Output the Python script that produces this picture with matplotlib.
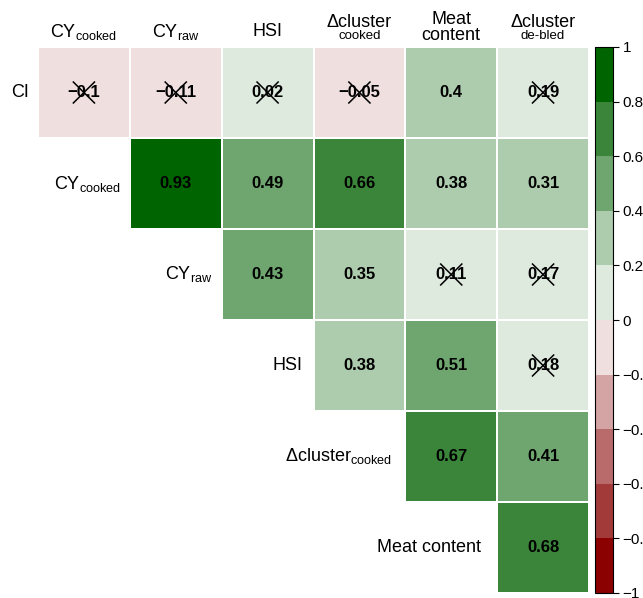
import numpy as np
import matplotlib
matplotlib.use("Agg")
import matplotlib.pyplot as plt
from matplotlib.colors import ListedColormap, BoundaryNorm
from matplotlib.colorbar import ColorbarBase

plt.rcParams['font.family'] = ['Liberation Sans', 'DejaVu Sans']
plt.rcParams['mathtext.fontset'] = 'custom'
plt.rcParams['mathtext.rm'] = 'Liberation Sans'
plt.rcParams['axes.unicode_minus'] = True

# rows / columns of the upper triangle
row_names = ['CI', 'CYcooked', 'CYraw', 'HSI', 'dcluster_cooked', 'Meat content']
col_names = ['CYcooked', 'CYraw', 'HSI', 'dcluster_cooked', 'Meat content', 'dcluster_debled']

# correlation values, one list per row (starting at the diagonal)
r_ci = [-0.1, -0.11, 0.02, -0.05, 0.398, 0.19]
r_cycooked = [0.93, 0.49, 0.66, 0.38, 0.31]
r_cyraw = [0.43, 0.35, 0.11, 0.17]
r_hsi = [0.38, 0.51, 0.18]
r_dcluster = [0.67, 0.41]
r_meat = [0.68]
rows = [r_ci, r_cycooked, r_cyraw, r_hsi, r_dcluster, r_meat]

# non-significant cells (crossed out)
ns_ci = [True, True, True, True, False, True]
ns_cycooked = [False, False, False, False, False]
ns_cyraw = [False, False, True, True]
ns_hsi = [False, False, True]
ns_dcluster = [False, False]
ns_meat = [False]
ns_rows = [ns_ci, ns_cycooked, ns_cyraw, ns_hsi, ns_dcluster, ns_meat]

bounds = np.linspace(-1, 1, 11)
cbar_labels = ['\u22121', '\u22120.8', '\u22120.6', '\u22120.4', '\u22120.2', '0',
               '0.2', '0.4', '0.6', '0.8', '1']
colors = ['#8b0000', '#a23a3a', '#b96b6b', '#d4a4a4', '#f0dfdf',
          '#dfeadf', '#adcbad', '#6fa66f', '#3a853a', '#006400']
cmap = ListedColormap(colors)
norm = BoundaryNorm(bounds, cmap.N)

n = len(row_names)
mat = np.full((n, n), np.nan)
for i, vals in enumerate(rows):
    mat[i, i:] = vals
mat = np.ma.masked_invalid(mat)

W, H = 643, 598
fig = plt.figure(figsize=(W / 100, H / 100), dpi=100)
ax = fig.add_axes([38 / W, 1 - 593 / H, (589 - 38) / W, (593 - 47) / H])
ax.pcolormesh(np.arange(n + 1), np.arange(n + 1), mat, cmap=cmap, norm=norm,
              edgecolors='white', linewidth=1.2)
ax.set_xlim(0, n)
ax.set_ylim(n, 0)
ax.axis('off')

for i, vals in enumerate(rows):
    for k, v in enumerate(vals):
        j = i + k
        s = f"{round(v, 2):g}".replace('-', '\u2212')
        ax.text(j + 0.5, i + 0.5, s, ha='center', va='center',
                fontsize=12, fontweight='bold', color='black')
        if ns_rows[i][k]:
            d = 0.115
            ax.plot([j + 0.5 - d, j + 0.5 + d], [i + 0.5 - d, i + 0.5 + d],
                    color='black', lw=1.1)
            ax.plot([j + 0.5 - d, j + 0.5 + d], [i + 0.5 + d, i + 0.5 - d],
                    color='black', lw=1.1)

lab_fs = 13
sub_fs = 9.5

# row labels
row_text = ['CI', r'$\mathrm{CY}_{\mathrm{cooked}}$', r'$\mathrm{CY}_{\mathrm{raw}}$',
            'HSI', r'$\mathrm{\Delta cluster}_{\mathrm{cooked}}$', 'Meat content']
row_gap = [0.1, 0.1, 0.1, 0.12, 0.14, 0.18]
for i, t in enumerate(row_text):
    ax.text(i - row_gap[i], i + 0.5, t, ha='right', va='center', fontsize=lab_fs,
            color='black', clip_on=False)

# column labels
top = -0.06
ax.text(0.5, top, r'$\mathrm{CY}_{\mathrm{cooked}}$', ha='center', va='bottom',
        fontsize=lab_fs, clip_on=False)
ax.text(1.5, top, r'$\mathrm{CY}_{\mathrm{raw}}$', ha='center', va='bottom',
        fontsize=lab_fs, clip_on=False)
ax.text(2.5, top - 0.02, 'HSI', ha='center', va='bottom', fontsize=lab_fs, clip_on=False)
for j, sub in [(3, 'cooked'), (5, 'de-bled')]:
    ax.text(j + 0.5, top + 0.01, sub, ha='center', va='bottom', fontsize=sub_fs,
            clip_on=False)
    ax.text(j + 0.5, top - 0.115, '\u0394cluster', ha='center', va='bottom',
            fontsize=lab_fs, clip_on=False)
ax.text(4.5, top + 0.03, 'Meat\ncontent', ha='center', va='bottom', fontsize=lab_fs,
        linespacing=0.92, clip_on=False)

# colour bar
cax = fig.add_axes([595 / W, 1 - 593 / H, 18 / W, (593 - 47) / H])
cb = ColorbarBase(cax, cmap=cmap, norm=norm, boundaries=bounds, ticks=bounds,
                  orientation='vertical')
cb.outline.set_linewidth(0.8)
cb.outline.set_edgecolor('black')
cax.set_yticklabels(cbar_labels)
cax.tick_params(axis='y', length=4, width=0.8, labelsize=11, pad=3, direction='out')

fig.savefig('out.png', dpi=100)
